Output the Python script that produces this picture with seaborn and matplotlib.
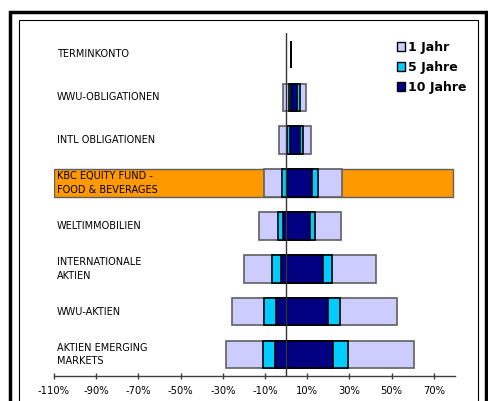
import matplotlib.pyplot as plt
import matplotlib.patches as mpatches
import numpy as np
import seaborn as sb

# 1. date (randamente min / max pe perioada, in %)
kategorien = ["TERMINKONTO", "WWU-OBLIGATIONEN", "INTL OBLIGATIONEN",
              "KBC EQUITY FUND -\nFOOD & BEVERAGES", "WELTIMMOBILIEN",
              "INTERNATIONALE\nAKTIEN", "WWU-AKTIEN", "AKTIEN EMERGING\nMARKETS"]
fonds = "KBC EQUITY FUND -\nFOOD & BEVERAGES"

jahr1_min = [2.2, -1.4, -3.5, -10.6, -13.0, -20.0, -25.5, -28.4]
jahr1_max = [2.2, 9.5, 11.8, 26.6, 25.8, 42.6, 52.5, 60.7]
jahr5_min = [2.2, 1.3, 0.2, -1.9, -4.0, -6.6, -10.3, -11.1]
jahr5_max = [2.2, 6.7, 7.8, 15.3, 13.7, 21.9, 25.5, 29.1]
jahr10_min = [2.2, 2.4, 1.8, 0.3, -1.6, -2.4, -4.7, -5.5]
jahr10_max = [2.2, 5.3, 6.4, 12.4, 11.5, 17.5, 19.7, 22.2]

ticks = np.arange(-110, 80, 20)

# 2. zona de desenare
sb.set_style("white")
plt.rcParams['font.family'] = ['DejaVu Sans']
plt.rcParams['text.color'] = 'black'
plt.rcParams['xtick.labelcolor'] = 'black'

fig = plt.figure(figsize=(4.89, 4.01), dpi=100)
ax = fig.add_axes([54 / 489, 25 / 401, (455 - 54) / 489, (376 - 33) / 401])

# 3. graficul
y = np.arange(len(kategorien))
h = 0.64

# randul evidentiat (fondul)
i_fonds = kategorien.index(fonds)
ax.barh(i_fonds, 79 + 110, left=-110, height=h, color='#FF9900',
        edgecolor='#606060', linewidth=1, zorder=1)

serien = [("1 Jahr", jahr1_min, jahr1_max, '#CCCCFF', '#606060'),
          ("5 Jahre", jahr5_min, jahr5_max, '#00CCFF', 'black'),
          ("10 Jahre", jahr10_min, jahr10_max, '#000080', 'black')]
for z, (name, lo, hi, col, ec) in enumerate(serien):
    lo = np.array(lo)
    hi = np.array(hi)
    ax.barh(y, hi - lo, left=lo, height=h, color=col, edgecolor=ec,
            linewidth=1.2, zorder=2 + z)

ax.axvline(0, color='#333333', linewidth=1, zorder=6)

for i, k in enumerate(kategorien):
    ax.text(-108.7, i, k, ha='left', va='center', fontsize=7,
            linespacing=1.45, color='black', zorder=7)

# 4. stilizare
ax.set_xlim(-110, 80)
ax.set_ylim(len(kategorien) - 0.5, -0.5)
ax.set_yticks([])
ax.set_xticks(ticks)
ax.set_xticklabels([f"{t}%" for t in ticks], fontsize=7.2)
ax.tick_params(axis='x', direction='inout', length=4.5, width=1,
               color='#404040', pad=5, bottom=True)
for s in ['top', 'right', 'left']:
    ax.spines[s].set_visible(False)
ax.spines['bottom'].set_color('#404040')
ax.spines['bottom'].set_linewidth(1)

handles = [mpatches.Patch(facecolor=c, edgecolor='black', linewidth=1, label=n)
           for n, _, _, c, _ in serien]
fig.legend(handles=handles, loc='upper left',
           bbox_to_anchor=(397 / 489, 1 - 41 / 401), frameon=False,
           prop={'weight': 'bold', 'size': 9}, borderpad=0, borderaxespad=0,
           handlelength=0.66, handleheight=0.66, handletextpad=0.25,
           labelspacing=0.55, labelcolor='black')

# rame
fig.add_artist(mpatches.Rectangle((9.5 / 489, -0.1), (486 - 9.5) / 489,
                                  (401 - 11.5) / 401 + 0.1,
                                  transform=fig.transFigure, fill=False,
                                  edgecolor='black', linewidth=2.5))
fig.add_artist(mpatches.Rectangle((19.5 / 489, -0.1), (478 - 19.5) / 489,
                                  (401 - 19.5) / 401 + 0.1,
                                  transform=fig.transFigure, fill=False,
                                  edgecolor='black', linewidth=0.8))

# 5. salvare
fig.savefig("out.png", dpi=100)
